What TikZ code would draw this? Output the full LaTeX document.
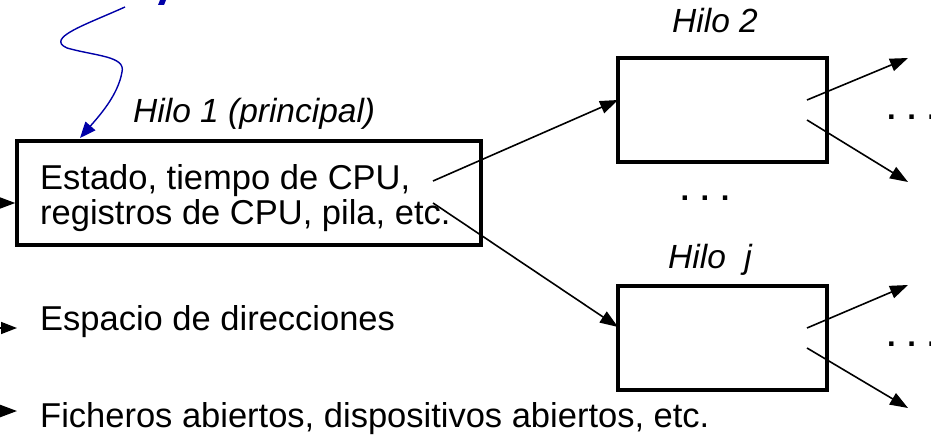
\documentclass[tikz,border=0pt]{standalone}
\usepackage{fontspec}
\setmainfont{Liberation Sans}
\usetikzlibrary{arrows.meta,calc,positioning}
\definecolor{deepblue}{HTML}{0000A8}

\begin{document}
\begin{tikzpicture}[x=1pt,y=-1pt, every node/.style={font=\fontsize{34.5}{35}\selectfont},
  hilobox/.style={draw,line width=3.5pt,minimum width=209pt,minimum height=104pt,inner sep=0pt},
  flecha/.style={line width=1.6pt,-{Triangle[length=18pt,width=13pt]}},
  etiqueta/.style={font=\fontsize{33.5}{34}\selectfont\itshape,inner sep=0pt,anchor=base west},
  puntos/.style={font=\fontsize{31}{34}\selectfont\bfseries,inner sep=0pt}]
  \useasboundingbox (0,0) rectangle (931,441);
  % proceso: hilo principal
  \node[hilobox,minimum width=464pt] (h1) at (249,193) {};
  \node[inner sep=0pt,anchor=base west,align=left] (t1) at (40,224) {Estado, tiempo de CPU,\\registros de CPU, pila, etc.};
  \node[etiqueta] (lh1) at (133,122) {Hilo 1 (principal)};
  % hilos creados
  \node[hilobox] (h2) at (722.5,110) {};
  \node[hilobox] (hj) at (722.5,338) {};
  \node[etiqueta] (lh2) at (672,33) {Hilo 2};
  \node[etiqueta] (lhj) at (668,268) {Hilo~~j};
  \node[puntos] (d1) at (705,198) {. . .};
  \node[puntos,anchor=west] (d2) at (887,117) {. . .};
  \node[puntos,anchor=west] (d3) at (887,344) {. . .};
  % recursos del proceso
  \node[inner sep=0pt,anchor=base west] (esp) at (40,330) {Espacio de direcciones};
  \node[inner sep=0pt,anchor=base west] (fic) at (40,427) {Ficheros abiertos, dispositivos abiertos, etc.};
  % puntos de conexion
  \coordinate (a1) at (433,181);
  \coordinate (a2) at (433,203);
  \coordinate (b1) at (618,100);
  \coordinate (b2) at (618,327);
  \coordinate (c1) at (807,100);
  \coordinate (c2) at (807,120);
  \coordinate (c3) at (807,328);
  \coordinate (c4) at (807,348);
  \coordinate (e1) at (908,58);
  \coordinate (e2) at (908,182);
  \coordinate (e3) at (908,285);
  \coordinate (e4) at (908,408);
  \coordinate (f1) at (-20,203);
  \coordinate (f2) at (-20,328);
  \coordinate (f3) at (-20,411);
  \draw[flecha] (a1) -- (b1);
  \draw[flecha] (a2) -- (b2);
  \draw[flecha] (c1) -- (e1);
  \draw[flecha] (c2) -- (e2);
  \draw[flecha] (c3) -- (e3);
  \draw[flecha] (c4) -- (e4);
  \draw[flecha] (f1) -- (h1.west |- f1);
  \draw[flecha,-{Triangle[length=16pt,width=12pt]}] (f2) -- (17,328);
  \draw[flecha] (f3) -- (17,411);
  % flecha azul
  \coordinate (z0) at (125,7);
  \draw[deepblue,line width=1.4pt,-{Triangle[length=16pt,width=13pt]}] (z0) .. controls (85,25) and (45,38) .. (67,48)
    .. controls (95,56) and (126,56) .. (122,72) .. controls (118,95) and (100,115) .. (80,138);
  \fill[deepblue] (158,5) -- (160,0) -- (166,0) -- (164,5) -- cycle;
\end{tikzpicture}
\end{document}
